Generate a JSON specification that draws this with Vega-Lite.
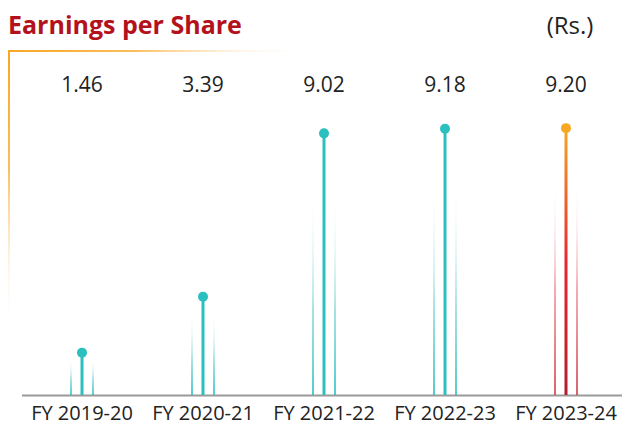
{
  "$schema": "https://vega.github.io/schema/vega-lite/v6.json",
  "width": 613,
  "height": 344,
  "autosize": {"type": "none"},
  "padding": {"left": 9, "top": 51, "right": 0, "bottom": 50},
  "background": "white",
  "view": {
    "strokeWidth": 2,
    "stroke": {
      "gradient": "linear", "x1": 0, "y1": 0, "x2": 1, "y2": 0.6,
      "stops": [
        {"offset": 0, "color": "#f7a823"},
        {"offset": 0.15, "color": "#fbbd5c"},
        {"offset": 0.36, "color": "rgba(255,255,255,0)"},
        {"offset": 1, "color": "rgba(255,255,255,0)"}
      ]
    }
  },
  "title": {
    "text": "Earnings per Share",
    "anchor": "start",
    "frame": "group",
    "offset": 14,
    "dy": 38,
    "dx": -1,
    "font": "Open Sans",
    "fontSize": 25,
    "fontWeight": "bold",
    "color": "#b3121c"
  },
  "data": {
    "values": [
      {"year": "FY 2019-20", "eps": 1.46, "label": "1.46", "side": 1.25},
      {"year": "FY 2020-21", "eps": 3.39, "label": "3.39", "side": 2.9},
      {"year": "FY 2021-22", "eps": 9.02, "label": "9.02", "side": 7.1},
      {"year": "FY 2022-23", "eps": 9.18, "label": "9.18", "side": 7.4},
      {"year": "FY 2023-24", "eps": 9.2, "label": "9.20", "side": 7.4}
    ]
  },
  "encoding": {
    "x": {
      "field": "year", "type": "nominal", "sort": null,
      "scale": {"type": "band", "range": [12.5, 617.5], "paddingInner": 0, "paddingOuter": 0},
      "axis": {
        "title": null, "ticks": false, "labelAngle": 0, "labelPadding": 8,
        "labelFont": "Open Sans", "labelFontSize": 20, "labelColor": "#222222",
        "domainColor": "#9a9a9a", "domainWidth": 2, "grid": false
      }
    }
  },
  "layer": [
    {
      "transform": [{"filter": "datum.year !== 'FY 2023-24'"}],
      "mark": {"type": "bar", "width": 1.6, "xOffset": -11, "fill": {"gradient": "linear", "x1": 0, "y1": 1, "x2": 0, "y2": 0, "stops": [{"offset": 0, "color": "#2bbfbf"}, {"offset": 0.4, "color": "#8ddada"}, {"offset": 1, "color": "rgba(255,255,255,0)"}]}},
      "encoding": {"y": {"field": "side", "type": "quantitative", "scale": {"domain": [0, 11.86], "nice": false}, "axis": null}}
    },
    {
      "transform": [{"filter": "datum.year !== 'FY 2023-24'"}],
      "mark": {"type": "bar", "width": 1.6, "xOffset": 11, "fill": {"gradient": "linear", "x1": 0, "y1": 1, "x2": 0, "y2": 0, "stops": [{"offset": 0, "color": "#2bbfbf"}, {"offset": 0.4, "color": "#8ddada"}, {"offset": 1, "color": "rgba(255,255,255,0)"}]}},
      "encoding": {"y": {"field": "side", "type": "quantitative"}}
    },
    {
      "transform": [{"filter": "datum.year === 'FY 2023-24'"}],
      "mark": {"type": "bar", "width": 1.4, "xOffset": -11, "fill": {"gradient": "linear", "x1": 0, "y1": 1, "x2": 0, "y2": 0, "stops": [{"offset": 0, "color": "#c8202e"}, {"offset": 0.5, "color": "#f08a94"}, {"offset": 1, "color": "rgba(255,255,255,0)"}]}},
      "encoding": {"y": {"field": "side", "type": "quantitative"}}
    },
    {
      "transform": [{"filter": "datum.year === 'FY 2023-24'"}],
      "mark": {"type": "bar", "width": 1.4, "xOffset": 11, "fill": {"gradient": "linear", "x1": 0, "y1": 1, "x2": 0, "y2": 0, "stops": [{"offset": 0, "color": "#c8202e"}, {"offset": 0.5, "color": "#f08a94"}, {"offset": 1, "color": "rgba(255,255,255,0)"}]}},
      "encoding": {"y": {"field": "side", "type": "quantitative"}}
    },
    {
      "transform": [{"filter": "datum.year !== 'FY 2023-24'"}],
      "mark": {"type": "bar", "width": 3, "fill": "#2bbfbf"},
      "encoding": {"y": {"field": "eps", "type": "quantitative"}}
    },
    {
      "transform": [{"filter": "datum.year === 'FY 2023-24'"}],
      "mark": {"type": "bar", "width": 3, "fill": {"gradient": "linear", "x1": 0, "y1": 0, "x2": 0, "y2": 1, "stops": [{"offset": 0, "color": "#f7a823"}, {"offset": 0.5, "color": "#e8262f"}, {"offset": 1, "color": "#b01e2b"}]}},
      "encoding": {"y": {"field": "eps", "type": "quantitative"}}
    },
    {
      "mark": {"type": "circle", "size": 100, "opacity": 1},
      "encoding": {
        "y": {"field": "eps", "type": "quantitative"},
        "color": {"condition": {"test": "datum.year === 'FY 2023-24'", "value": "#f7a823"}, "value": "#2bbfbf"}
      }
    },
    {
      "mark": {"type": "text", "font": "Open Sans", "fontSize": 21, "color": "#222222", "baseline": "middle"},
      "encoding": {
        "y": {"datum": 10.66, "type": "quantitative"},
        "text": {"field": "label"}
      }
    },
    {
      "transform": [{"filter": "datum.year === 'FY 2023-24'"}],
      "mark": {"type": "text", "font": "Open Sans", "fontSize": 24, "color": "#222222", "baseline": "middle", "dx": 4},
      "encoding": {
        "y": {"datum": 12.69, "type": "quantitative"},
        "text": {"value": "(Rs.)"}
      }
    }
  ]
}
